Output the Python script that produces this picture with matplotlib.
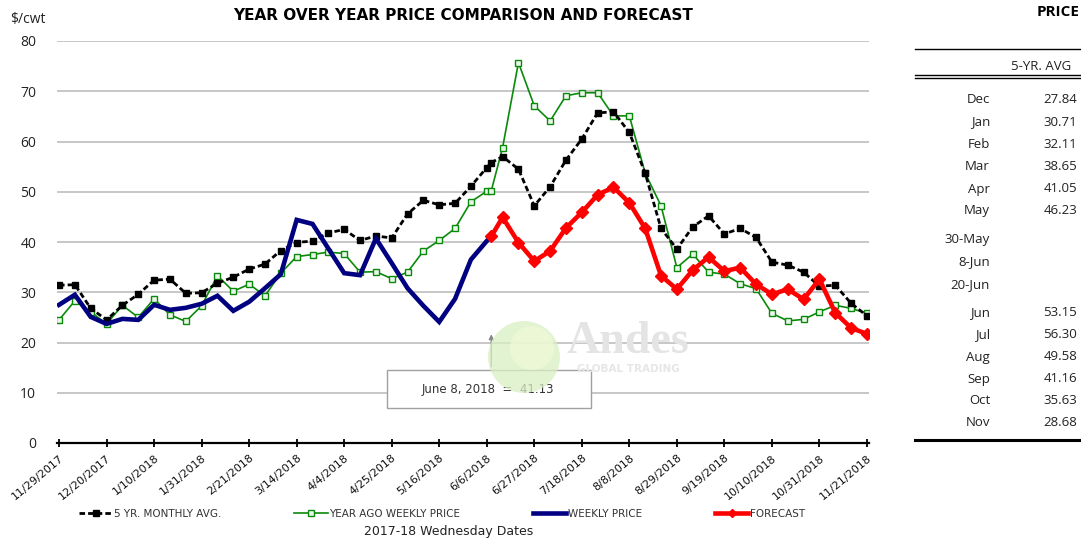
import numpy as np
import pandas as pd
import matplotlib
matplotlib.use("Agg")
import matplotlib.pyplot as plt
import matplotlib.dates as mdates
from matplotlib.lines import Line2D
from matplotlib.patches import Rectangle, Ellipse

# ---------------- data ----------------
weeks = list(pd.date_range("2017-11-29", "2018-11-21", freq="7D"))
dates = weeks[:28] + [pd.Timestamp("2018-06-08")] + weeks[28:]

five_yr_avg = [31.4, 31.5, 26.8, 24.5, 27.4, 29.6, 32.4, 32.6, 29.8, 29.9,
               31.8, 33.0, 34.6, 35.6, 38.3, 39.9, 40.2, 41.8, 42.5, 40.3,
               41.2, 40.8, 45.6, 48.3, 47.4, 47.7, 51.1, 54.8, 55.8, 57.0,
               54.5, 47.2, 51.0, 56.3, 60.5, 65.7, 65.9, 61.8, 53.7, 42.7,
               38.6, 43.0, 45.2, 41.6, 42.7, 40.9, 36.0, 35.4, 34.0, 31.2,
               31.4, 27.8, 25.3]
year_ago = [24.5, 28.3, 26.1, 23.7, 27.4, 25.0, 28.7, 25.5, 24.2, 27.3,
            33.3, 30.2, 31.6, 29.3, 33.8, 37.1, 37.5, 38.0, 37.7, 34.0,
            34.1, 32.7, 34.0, 38.2, 40.3, 42.7, 48.0, 50.1, 50.2, 58.8,
            75.7, 67.1, 64.1, 69.1, 69.7, 69.7, 65.1, 65.1, 53.7, 47.2,
            34.9, 37.6, 34.0, 33.6, 31.7, 30.7, 25.8, 24.3, 24.6, 26.1,
            27.4, 26.8, 25.8]
weekly_price = [27.5, 29.5, 25.1, 23.7, 24.7, 24.5, 27.5, 26.5, 26.9, 27.7,
                29.3, 26.3, 28.1, 30.8, 33.6, 44.4, 43.6, 38.7, 33.8, 33.4,
                40.7, 35.8, 30.8, 27.3, 24.1, 28.7, 36.5, 40.2, 41.13]
forecast = [41.13, 44.9, 39.9, 36.2, 38.2, 42.8, 45.9, 49.4, 50.9, 47.8,
            42.7, 33.3, 30.6, 34.4, 37.0, 34.2, 34.9, 31.6, 29.6, 30.6,
            28.6, 32.6, 25.9, 22.9, 21.7]

table_labels = ["Dec", "Jan", "Feb", "Mar", "Apr", "May", "30-May", "8-Jun",
                "20-Jun", "Jun", "Jul", "Aug", "Sep", "Oct", "Nov"]
table_values = ["27.84", "30.71", "32.11", "38.65", "41.05", "46.23", "", "",
                "", "53.15", "56.30", "49.58", "41.16", "35.63", "28.68"]
table_rows_y = [100, 122, 144, 166, 189, 211, 240, 262, 285, 313, 335, 357,
                379, 401, 423]

tick_dates = weeks[::3]

# ---------------- figure ----------------
W, H = 1081, 542
fig = plt.figure(figsize=(W / 100, H / 100), dpi=100)
fig.patch.set_facecolor("white")

def fx(px):
    return px / W

def fy(py):
    return 1 - py / H

ax = fig.add_axes([fx(57), fy(443), fx(869) - fx(57), fy(41) - fy(443)])
dn = mdates.date2num(dates)
ax.set_xlim(dn[0] - 0.9, dn[-1] + 0.9)
ax.set_ylim(0, 80)

for v in range(10, 81, 10):
    ax.axhline(v, color="#c3c3c3", lw=1.3, zorder=0)

ax.plot(dn, year_ago, color="#0a8a0a", lw=1.2, marker="s", ms=5,
        mfc="#eaf6ea", mec="#0a8a0a", mew=1.0, zorder=2)
ax.plot(dn, five_yr_avg, color="black", lw=2.0, ls=(0, (2.0, 1.1)),
        marker="s", ms=4.5, mfc="black", mec="black", zorder=3)
ax.plot(dn[:len(weekly_price)], weekly_price, color="#000080", lw=3.3,
        solid_joinstyle="miter", zorder=4)
ax.plot(dn[len(dates) - len(forecast):], forecast, color="#ff0000", lw=3.3,
        marker="D", ms=6.5, mfc="#ff0000", mec="#ff0000", zorder=5)

for s in ["top", "right", "left"]:
    ax.spines[s].set_visible(False)
ax.spines["bottom"].set_linewidth(1.6)
ax.spines["bottom"].set_zorder(6)

ax.set_yticks(range(0, 81, 10))
ax.set_yticklabels([str(v) for v in range(0, 81, 10)], fontsize=10,
                   family="Open Sans", color="#222222")
ax.tick_params(axis="y", length=0, pad=15)

ax.set_xticks(mdates.date2num(tick_dates))
ax.set_xticklabels([f"{d.month}/{d.day}/{d.year}" for d in tick_dates],
                   rotation=40, ha="right", va="top", rotation_mode="anchor",
                   fontsize=8, family="DejaVu Sans", color="#111111")
ax.tick_params(axis="x", direction="inout", length=6, width=1.3, pad=4)

# titles / labels
fig.text(fx(463), fy(16), "YEAR OVER YEAR PRICE COMPARISON AND FORECAST",
         ha="center", va="center", fontsize=11, fontweight="bold",
         family="DejaVu Sans", color="black")
fig.text(fx(28), fy(19), "$/cwt", ha="center", va="center", fontsize=10,
         family="Open Sans", color="#222222")
fig.text(fx(449), fy(532), "2017-18 Wednesday Dates", ha="center",
         va="center", fontsize=9, family="DejaVu Sans", color="#222222")

# annotation box
fig.add_artist(Rectangle((fx(387), fy(408)), fx(591) - fx(387),
                         fy(370) - fy(408), transform=fig.transFigure,
                         facecolor="white", edgecolor="#a0a0a0", lw=1.0,
                         zorder=7))
fig.text(fx(422), fy(389), "June 8, 2018  =  41.13", ha="left", va="center",
         fontsize=8.5, family="DejaVu Sans", color="#333333", zorder=8)
ax.annotate("", xy=(mdates.date2num(pd.Timestamp("2018-06-08")), 22.2),
            xytext=(mdates.date2num(pd.Timestamp("2018-06-08")), 14.6),
            arrowprops=dict(arrowstyle="-|>", color="#888888", lw=1.0,
                            mutation_scale=7), zorder=8)

# watermark
fig.add_artist(Ellipse((fx(524), fy(357)), 72 / W, 72 / H,
                       transform=fig.transFigure, facecolor="#d9efc4",
                       edgecolor="none", alpha=0.75, zorder=9))
fig.add_artist(Ellipse((fx(532), fy(348)), 44 / W, 44 / H,
                       transform=fig.transFigure, facecolor="#f1f9d8",
                       edgecolor="none", alpha=0.7, zorder=9))
fig.text(fx(628), fy(342), "Andes", ha="center", va="center", fontsize=33,
         fontweight="bold", family="Liberation Serif", color="#e4e4e4",
         zorder=9)
fig.text(fx(628), fy(369), "GLOBAL TRADING", ha="center", va="center",
         fontsize=7.5, fontweight="bold", family="DejaVu Sans",
         color="#e6e6e6", zorder=9)

# legend
handles = [
    Line2D([], [], color="black", lw=2.0, ls=(0, (2.0, 1.1)), marker="s",
           ms=5, mfc="black", mec="black"),
    Line2D([], [], color="#0a8a0a", lw=1.2, marker="s", ms=5,
           mfc="#eaf6ea", mec="#0a8a0a"),
    Line2D([], [], color="#000080", lw=3.3),
    Line2D([], [], color="#ff0000", lw=3.3, marker="D", ms=4,
           mfc="#ff0000", mec="#ff0000"),
]
labels = ["5 YR. MONTHLY AVG.", "YEAR AGO WEEKLY PRICE", "WEEKLY PRICE",
          "FORECAST"]
leg = fig.legend(handles, labels, loc="center",
                 bbox_to_anchor=(fx(442), fy(514)), ncol=4, frameon=False,
                 handlelength=3.2, handletextpad=0.15, columnspacing=7.0,
                 prop={"family": "DejaVu Sans", "size": 7.5})
for t in leg.get_texts():
    t.set_color("#333333")

# right table
fig.text(fx(1080), fy(12), "PRICE", ha="right", va="center", fontsize=11,
         fontweight="bold", family="Open Sans", color="black")
fig.add_artist(Line2D([fx(915), 1], [fy(49), fy(49)], color="black", lw=1.0,
                      transform=fig.transFigure))
fig.text(fx(1071), fy(67), "5-YR. AVG", ha="right", va="center", fontsize=9.5,
         family="Open Sans", color="#222222")
fig.add_artist(Line2D([fx(915), 1], [fy(75), fy(75)], color="black", lw=1.0,
                      transform=fig.transFigure))
fig.add_artist(Line2D([fx(915), 1], [fy(77.5), fy(77.5)], color="black",
                      lw=1.0, transform=fig.transFigure))
for lab, val, yy in zip(table_labels, table_values, table_rows_y):
    fig.text(fx(990), fy(yy), lab, ha="right", va="center", fontsize=9.5,
             family="Open Sans", color="#222222")
    if val:
        fig.text(fx(1077), fy(yy), val, ha="right", va="center",
                 fontsize=9.5, family="Open Sans", color="#222222")
fig.add_artist(Line2D([fx(915), 1], [fy(440), fy(440)], color="black", lw=2.2,
                      transform=fig.transFigure))

fig.savefig("out.png", dpi=100, facecolor="white")
